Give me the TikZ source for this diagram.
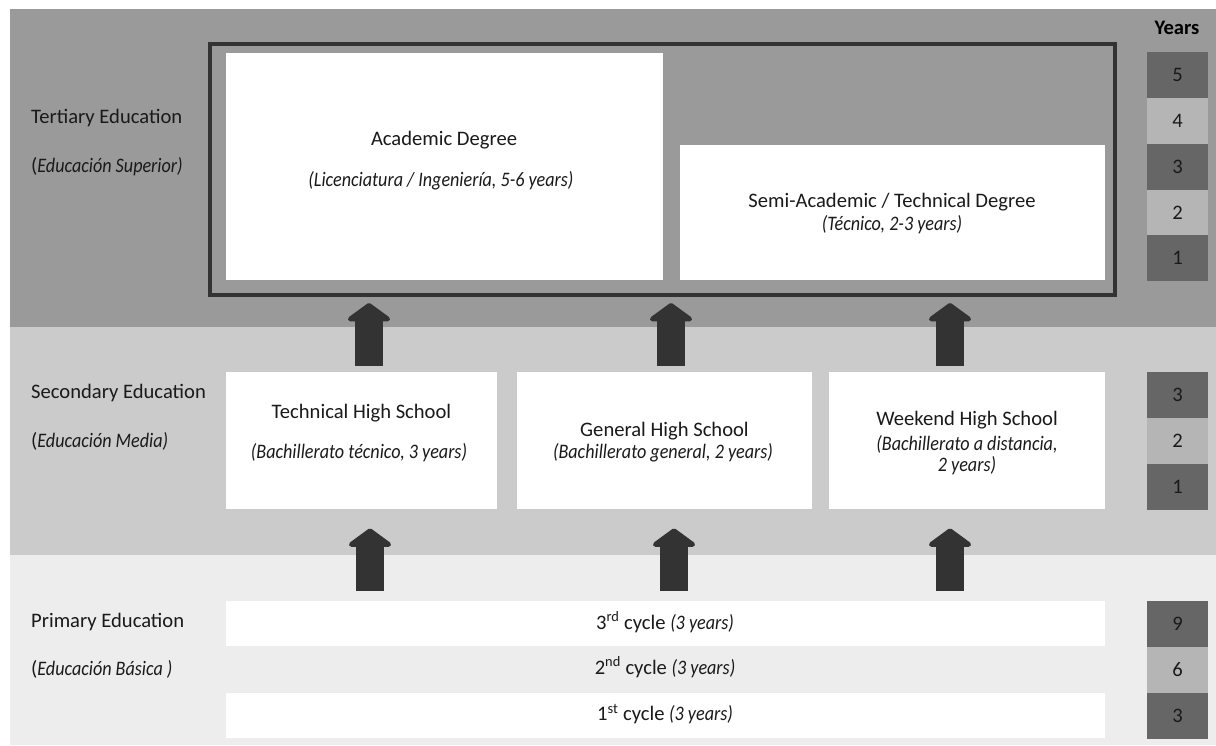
\documentclass[tikz,border=0pt]{standalone}
\usepackage{fontspec}
\setmainfont{Carlito}
\newfontfamily\narrowfam{Carlito}[FakeStretch=0.88]
\usetikzlibrary{arrows.meta}
\definecolor{tert}{HTML}{9A9A9A}
\definecolor{secb}{HTML}{CBCBCB}
\definecolor{prim}{HTML}{EDEDED}
\definecolor{ydark}{HTML}{666666}
\definecolor{ylight}{HTML}{B5B5B5}
\definecolor{ink}{HTML}{333333}
\definecolor{txt}{HTML}{1A1A1A}
\newcommand{\itsm}[1]{{\narrowfam\itshape #1}}
\tikzset{
  whitebox/.style={fill=white, draw=none, inner sep=0pt, anchor=north west},
  lbl/.style={text=txt, inner sep=0pt, font=\fontsize{20.6}{24}\selectfont},
  sidelbl/.style={lbl, anchor=west},
  yrbox/.style={inner sep=0pt, minimum width=61pt, minimum height=45.8pt, anchor=north west, text=txt, font=\fontsize{20.6}{24}\selectfont},
  yd/.style={yrbox, fill=ydark},
  yl/.style={yrbox, fill=ylight},
  blockarrow/.style={draw=ink, line width=28pt, -{Triangle[width=51pt,length=19pt,round]}},
}
\begin{document}
\begin{tikzpicture}[x=1pt,y=-1pt]
\useasboundingbox (0,0) rectangle (1216,745);
% bands
\fill[tert] (10,9) rectangle (1216,327);
\fill[secb] (10,327) rectangle (1216,555);
\fill[prim] (10,555) rectangle (1216,745);

% side labels
\node[sidelbl] (tl1) at (31,118) {Tertiary Education};
\node[sidelbl] (tl2) at (31,167) {(\itsm{Educación Superior)}};
\node[sidelbl] (sl1) at (31,393) {Secondary Education};
\node[sidelbl] (sl2) at (31,441) {(\itsm{Educación Media)}};
\node[sidelbl] (pl1) at (31,622) {Primary Education};
\node[sidelbl] (pl2) at (31,669) {(\itsm{Educación Básica )}};

% tertiary
\node[draw=ink, line width=4pt, inner sep=0pt, minimum width=905pt, minimum height=251pt] (frame) at (662.5,169.5) {};
\node[whitebox, minimum width=437pt, minimum height=227pt] (acad) at (226,53) {};
\node[lbl] (acadt) at (444,140) {Academic Degree};
\node[lbl] (acads) at (441,181) {\itsm{(Licenciatura / Ingeniería, 5-6 years)}};
\node[whitebox, minimum width=425pt, minimum height=135pt] (semi) at (680,145) {};
\node[lbl] (semit) at (892,202) {Semi-Academic / Technical Degree};
\node[lbl] (semis) at (892,225) {\itsm{(Técnico, 2-3 years)}};

% secondary
\node[whitebox, minimum width=271pt, minimum height=137pt] (tech) at (226,372) {};
\node[lbl] (techt) at (361.5,413) {Technical High School};
\node[lbl] (techs) at (359,453) {\itsm{(Bachillerato técnico, 3 years)}};
\node[whitebox, minimum width=295pt, minimum height=137pt] (gen) at (517,372) {};
\node[lbl] (gent) at (664.5,431) {General High School};
\node[lbl] (gens) at (663,453) {\itsm{(Bachillerato general, 2 years)}};
\node[whitebox, minimum width=276pt, minimum height=137pt] (week) at (829,372) {};
\node[lbl] (weekt) at (967,420) {Weekend High School};
\node[lbl] (weeks1) at (967,444) {\itsm{(Bachillerato a distancia,}};
\node[lbl] (weeks2) at (967,466) {\itsm{2 years)}};

% primary
\node[whitebox, minimum width=879pt, minimum height=45pt] (row3) at (226,601) {};
\node[lbl] (row3t) at (665,622) {3\textsuperscript{rd} cycle \itsm{(3 years)}};
\node[lbl] (row2t) at (665,667) {2\textsuperscript{nd} cycle \itsm{(3 years)}};
\node[whitebox, minimum width=879pt, minimum height=45pt] (row1) at (226,693) {};
\node[lbl] (row1t) at (665,714) {1\textsuperscript{st} cycle \itsm{(3 years)}};

% arrows
\coordinate (c1) at (369,0);
\coordinate (c2) at (671,0);
\coordinate (c3) at (950,0);
\coordinate (d1) at (370,0);
\coordinate (d2) at (674,0);
\coordinate (d3) at (950,0);
\draw[blockarrow, shorten <=6pt, shorten >=6pt] (tech.north -| c1) -- (frame.south -| c1);
\draw[blockarrow, shorten <=6pt, shorten >=6pt] (gen.north -| c2) -- (frame.south -| c2);
\draw[blockarrow, shorten <=6pt, shorten >=6pt] (week.north -| c3) -- (frame.south -| c3);
\draw[blockarrow, shorten <=10pt, shorten >=19pt] (row3.north -| d1) -- (tech.south -| d1);
\draw[blockarrow, shorten <=10pt, shorten >=19pt] (row3.north -| d2) -- (gen.south -| d2);
\draw[blockarrow, shorten <=10pt, shorten >=19pt] (row3.north -| d3) -- (week.south -| d3);

% years column
\node[text=black, inner sep=0pt, font=\fontsize{20.6}{24}\selectfont\bfseries] (years) at (1177,28) {Years};
\node[yd] (t5) at (1147,52) {5};
\node[yl] (t4) at (1147,97.8) {4};
\node[yd] (t3) at (1147,143.6) {3};
\node[yl] (t2) at (1147,189.4) {2};
\node[yd] (t1) at (1147,235.2) {1};
\node[yd] (s3) at (1147,372) {3};
\node[yl] (s2) at (1147,417.8) {2};
\node[yd] (s1) at (1147,463.6) {1};
\node[yd] (p9) at (1147,601) {9};
\node[yl] (p6) at (1147,646.8) {6};
\node[yd] (p3) at (1147,692.6) {3};
\end{tikzpicture}
\end{document}
